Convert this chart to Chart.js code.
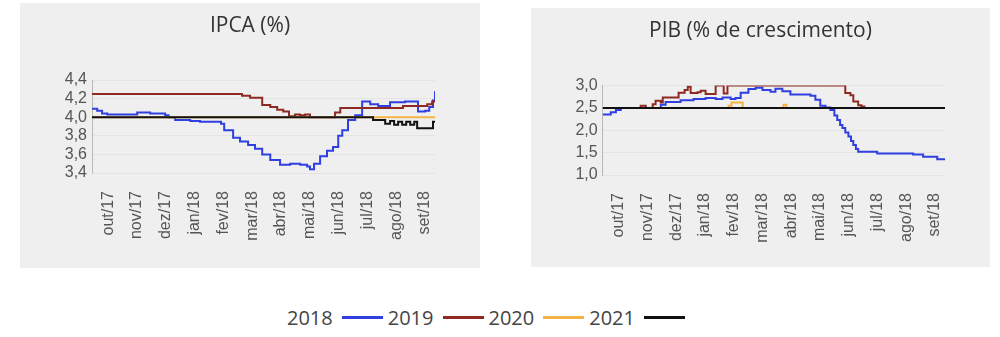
<!DOCTYPE html>
<html>
<head>
<meta charset="utf-8">
<script src="https://cdn.jsdelivr.net/npm/chart.js@4.4.1/dist/chart.umd.min.js"></script>
<style>
body{margin:0;width:1000px;height:337px;background:#fff;position:relative;overflow:hidden;font-family:"Open Sans",sans-serif;}
.painel{position:absolute;background:#efefef;}
#painel-ipca{left:20px;top:3px;width:460px;height:265px;}
#painel-pib{left:531px;top:8px;width:459px;height:259px;}
#legenda{position:absolute;left:287px;top:304px;height:27px;display:flex;align-items:center;font-size:20px;line-height:27px;color:#444;}
.item{display:flex;align-items:center;margin-right:5px;}
.traco{display:inline-block;width:41px;height:3px;margin-left:9px;}
</style>
</head>
<body>
<div class="painel" id="painel-ipca"><canvas id="grafico-ipca" width="460" height="265"></canvas></div>
<div class="painel" id="painel-pib"><canvas id="grafico-pib" width="459" height="259"></canvas></div>
<div id="legenda"></div>
<script>
// eixo x em meses: 0 = out/17 ... 11 = set/18
const meses = ['out/17','nov/17','dez/17','jan/18','fev/18','mar/18','abr/18','mai/18','jun/18','jul/18','ago/18','set/18'];
const anos = ['2018','2019','2020','2021'];
const cores = ['#2f3fe0','#8e2a22','#f4b445','#111111'];

const ticksIpca = [3.4,3.6,3.8,4.0,4.2,4.4];
const ticksPib = [1.0,1.5,2.0,2.5,3.0];

// [mes, valor] nos pontos de mudança
const ipca2018 = [[-0.56,4.09],[-0.38,4.07],[-0.21,4.04],[-0.03,4.03],[1.01,4.05],[1.46,4.04],[1.98,4.02],[2.10,4.0],[2.33,3.97],[2.85,3.96],[3.19,3.95],
  [3.92,3.93],[4.03,3.86],[4.34,3.78],[4.58,3.74],[4.86,3.70],[5.10,3.66],[5.35,3.60],[5.63,3.54],[5.97,3.49],[6.32,3.50],[6.67,3.49],
  [6.91,3.47],[7.01,3.44],[7.15,3.50],[7.36,3.58],[7.60,3.64],[7.81,3.68],[7.99,3.80],[8.13,3.86],[8.33,3.97],[8.58,4.02],[8.82,4.17],
  [9.10,4.14],[9.38,4.12],[9.79,4.16],[10.31,4.17],[10.76,4.06],[11.01,4.07],[11.15,4.11],[11.28,4.18],[11.35,4.28]];
const ipca2019 = [[-0.56,4.25],[4.65,4.23],[4.93,4.21],[5.35,4.13],[5.63,4.11],[5.87,4.08],[6.08,4.06],[6.28,4.01],[6.49,4.03],[6.66,4.02],
  [6.84,4.03],[7.01,4.0],[7.88,4.05],[8.06,4.1],[10.24,4.12],[11.08,4.14],[11.25,4.17],[11.35,4.17]];
const ipca2020 = [[-0.56,4.0],[11.35,4.0]];
const ipca2021 = [[-0.56,4.0],[9.20,3.97],[9.62,3.93],[9.79,3.96],[9.93,3.92],[10.07,3.95],[10.21,3.92],[10.35,3.95],[10.49,3.92],
  [10.63,3.95],[10.73,3.88],[11.18,3.88],[11.28,3.95],[11.35,3.95]];

const pib2018 = [[-0.56,2.35],[-0.28,2.40],[-0.10,2.45],[0.07,2.5],[1.46,2.57],[1.63,2.63],[2.15,2.67],[2.60,2.70],[3.02,2.72],[3.37,2.70],
  [3.61,2.73],[3.89,2.70],[4.06,2.72],[4.24,2.84],[4.51,2.92],[4.76,2.95],[5.00,2.90],[5.28,2.86],[5.45,2.93],[5.69,2.87],[5.97,2.80],
  [6.67,2.77],[6.84,2.68],[7.01,2.55],[7.19,2.51],[7.36,2.45],[7.50,2.33],[7.60,2.23],[7.70,2.12],[7.78,2.05],[7.88,1.95],[7.99,1.86],
  [8.08,1.76],[8.16,1.67],[8.25,1.58],[8.33,1.52],[8.99,1.48],[10.24,1.46],[10.59,1.41],[11.08,1.35],[11.35,1.33]];
const pib2019 = [[-0.56,2.5],[0.76,2.55],[0.94,2.5],[1.18,2.58],[1.28,2.66],[1.46,2.62],[1.53,2.73],[2.08,2.84],[2.29,2.9],[2.40,2.97],
  [2.50,2.83],[2.74,2.85],[2.85,2.88],[3.02,2.81],[3.37,3.0],[3.65,2.82],[3.78,3.0],[7.88,2.83],[8.06,2.78],[8.16,2.64],[8.33,2.56],
  [8.44,2.53],[8.58,2.53]];
const pib2020 = [[-0.56,2.5],[3.82,2.55],[3.92,2.62],[4.31,2.5],[5.73,2.57],[5.83,2.5],[11.35,2.5]];
const pib2021 = [[-0.56,2.5],[11.35,2.5]];

const xMin = -0.56, xMax = 11.35;

criarGrafico('grafico-ipca', 'IPCA (%)', [ipca2018, ipca2019, ipca2020, ipca2021], ticksIpca, 72, 95, 40.9);
criarGrafico('grafico-pib', 'PIB (% de crescimento)', [pib2018, pib2019, pib2020, pib2021], ticksPib, 71.7, 92, 41.4);
montarLegenda();

function criarGrafico(id, titulo, series, ticksY, larguraY, alturaX, padTitulo){
  const fonteTick = {family: 'Liberation Sans', size: 16};
  const datasets = series.map((s, i) => ({
    label: anos[i],
    data: s.map(p => ({x: p[0], y: p[1]})),
    borderColor: cores[i],
    borderWidth: 2,
    pointRadius: 0,
    stepped: true,
    fill: false,
    order: series.length - 1 - i   // 2021 (preto) por cima
  }));
  new Chart(document.getElementById(id), {
    type: 'line',
    data: {datasets: datasets},
    options: {
      responsive: false,
      animation: false,
      devicePixelRatio: 1,
      layout: {padding: 0},
      plugins: {
        legend: {display: false},
        tooltip: {enabled: false},
        title: {
          display: true,
          text: titulo,
          color: '#333',
          font: {family: 'Open Sans', size: 21, weight: 'normal'},
          padding: {top: 10.9, bottom: padTitulo}
        }
      },
      scales: {
        x: {
          type: 'linear',
          min: xMin,
          max: xMax,
          afterBuildTicks: s => { s.ticks = meses.map((m, i) => ({value: i})); },
          afterFit: s => { s.height = alturaX; },
          grid: {display: false},
          border: {display: false},
          ticks: {
            autoSkip: false, maxRotation: 90, minRotation: 90, padding: 10,
            color: '#555', font: fonteTick,
            callback: v => meses[v]
          }
        },
        y: {
          min: ticksY[0],
          max: ticksY[ticksY.length - 1],
          afterBuildTicks: s => { s.ticks = ticksY.map(v => ({value: v})); },
          afterFit: s => { s.width = larguraY; },
          grid: {color: '#e4e4e4', drawTicks: false},
          border: {color: '#b8b8b8'},
          ticks: {
            autoSkip: false, padding: 5, color: '#555', font: fonteTick,
            callback: v => v.toFixed(1).replace('.', ',')
          }
        },
        // eixo vazio só para deixar a margem da direita
        margem: {
          position: 'right',
          min: 0, max: 1,
          afterFit: s => { s.width = 45; },
          grid: {display: false},
          border: {display: false},
          ticks: {display: false}
        }
      }
    }
  });
}

function montarLegenda(){
  const legenda = document.getElementById('legenda');
  for (let i = 0; i < anos.length; i++) {
    const item = document.createElement('span');
    item.className = 'item';
    item.innerHTML = anos[i] + '<span class="traco" style="background:' + cores[i] + '"></span>';
    legenda.appendChild(item);
  }
}
</script>
</body>
</html>
